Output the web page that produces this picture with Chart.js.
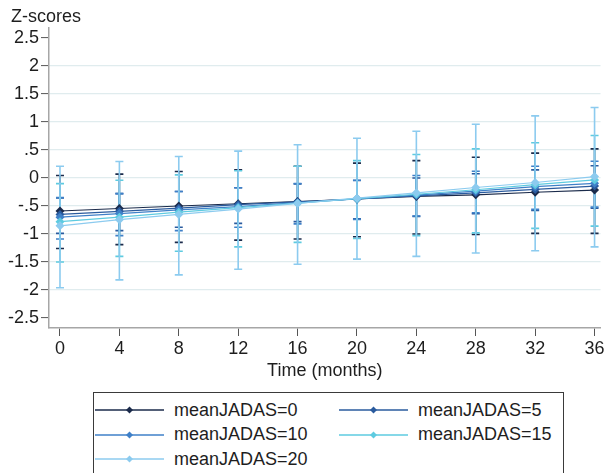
<!DOCTYPE html>
<html>
<head>
<meta charset="utf-8">
<title>Z-scores over time by mean JADAS</title>
<script src="https://cdn.jsdelivr.net/npm/chart.js@4.4.1/dist/chart.umd.min.js"></script>
<style>
    body { margin: 0; background: #fff; }
    #wrap { position: relative; width: 605px; height: 473px; overflow: hidden; font-family: "Liberation Sans", Arial, sans-serif; }
    #legend { position: absolute; left: 93px; top: 392px; width: 471px; height: 110px; border: 1px solid #3a3a3a; box-sizing: border-box; }
    .lg-item { position: absolute; height: 24px; display: flex; align-items: center; font-size: 18px; color: #1e1e1e; white-space: nowrap; }
    .lg-item svg { margin-right: 10px; }
</style>
</head>
<body>
<div id="wrap">
    <canvas id="zscore-chart" width="605" height="382"></canvas>
    <div id="legend"></div>
</div>
<script>
/* =============================================
   Z-scores by follow-up month, per mean JADAS
   ============================================= */

const months = [0, 4, 8, 12, 16, 20, 24, 28, 32, 36];
const yTicks = [-2.5, -2, -1.5, -1, -0.5, 0, 0.5, 1, 1.5, 2, 2.5];
const seriesNames = ['meanJADAS=0', 'meanJADAS=5', 'meanJADAS=10', 'meanJADAS=15', 'meanJADAS=20'];

// predicted z-score (point) with lower / upper confidence bounds
const jadas0   = [-0.59, -0.545, -0.5, -0.46, -0.42, -0.375, -0.33, -0.3, -0.255, -0.215];
const jadas0Lo = [-1.26, -1.19, -1.15, -1.11, -1.09, -1.05, -1.00, -1.01, -0.99, -0.99];
const jadas0Hi = [0.045, 0.07, 0.115, 0.147, 0.21, 0.265, 0.31, 0.37, 0.445, 0.52];

const jadas5   = [-0.65, -0.595, -0.54, -0.475, -0.425, -0.375, -0.32, -0.265, -0.205, -0.145];
const jadas5Lo = [-0.99, -0.94, -0.88, -0.81, -0.78, -0.73, -0.685, -0.64, -0.58, -0.54];
const jadas5Hi = [-0.355, -0.28, -0.24, -0.175, -0.105, -0.045, 0.0, 0.075, 0.145, 0.22];

const jadas10   = [-0.7, -0.635, -0.57, -0.51, -0.44, -0.375, -0.305, -0.235, -0.155, -0.095];
const jadas10Lo = [-1.09, -1.03, -0.94, -0.88, -0.82, -0.74, -0.68, -0.62, -0.56, -0.52];
const jadas10Hi = [-0.35, -0.28, -0.24, -0.175, -0.10, -0.04, 0.045, 0.12, 0.21, 0.30];

const jadas15   = [-0.78, -0.7, -0.61, -0.53, -0.45, -0.37, -0.29, -0.21, -0.12, -0.035];
const jadas15Lo = [-1.50, -1.40, -1.31, -1.23, -1.15, -1.08, -1.03, -0.98, -0.90, -0.86];
const jadas15Hi = [-0.10, -0.04, 0.055, 0.13, 0.21, 0.31, 0.42, 0.52, 0.63, 0.76];

const jadas20   = [-0.855, -0.745, -0.65, -0.555, -0.455, -0.36, -0.265, -0.17, -0.08, 0.025];
const jadas20Lo = [-1.96, -1.82, -1.73, -1.63, -1.54, -1.45, -1.40, -1.34, -1.30, -1.23];
const jadas20Hi = [0.21, 0.295, 0.385, 0.48, 0.595, 0.71, 0.835, 0.96, 1.11, 1.26];

const seriesColors = ['#1b2b4b', '#2a5b9e', '#3f80c8', '#5ecbe0', '#8ccbef'];
const FONT = '"Liberation Sans", Arial, sans-serif';

// Stata-style labels: ".5" and "-.5" without the leading zero
function axisLabel(v) {
    if (v === 0) return '0';
    const s = String(Math.abs(v)).replace(/^0\./, '.');
    return (v < 0 ? '-' : '') + s;
}

// vertical capped bars for the confidence interval of every point
const errorBars = {
    id: 'errorBars',
    beforeDatasetsDraw(chart) {
        const { ctx, scales: { x, y } } = chart;
        chart.data.datasets.forEach(ds => {
            ctx.save();
            ctx.strokeStyle = ds.borderColor;
            ctx.lineWidth = 1.6;
            ds.ciLow.forEach((lo, i) => {
                const px = x.getPixelForValue(months[i]);
                const top = y.getPixelForValue(ds.ciHigh[i]);
                const bot = y.getPixelForValue(lo);
                ctx.beginPath();
                ctx.moveTo(px, top); ctx.lineTo(px, bot);
                ctx.moveTo(px - 4, top); ctx.lineTo(px + 4, top);
                ctx.moveTo(px - 4, bot); ctx.lineTo(px + 4, bot);
                ctx.stroke();
            });
            ctx.restore();
        });
    }
};

// horizontal y-axis caption above the plot
const axisCaption = {
    id: 'axisCaption',
    afterDraw(chart) {
        const ctx = chart.ctx;
        ctx.save();
        ctx.font = '18px ' + FONT;
        ctx.fillStyle = '#1e1e1e';
        ctx.textBaseline = 'middle';
        ctx.fillText('Z-scores', 11, 17);
        ctx.restore();
    }
};

const ZScoreChart = {
    chart: null,

    init() {
        this.renderChart();
        this.renderLegend();
    },

    buildDatasets() {
        const points = [jadas0, jadas5, jadas10, jadas15, jadas20];
        const lows = [jadas0Lo, jadas5Lo, jadas10Lo, jadas15Lo, jadas20Lo];
        const highs = [jadas0Hi, jadas5Hi, jadas10Hi, jadas15Hi, jadas20Hi];

        return seriesNames.map((name, i) => ({
            label: name,
            data: months.map((m, j) => ({ x: m, y: points[i][j] })),
            ciLow: lows[i],
            ciHigh: highs[i],
            borderColor: seriesColors[i],
            backgroundColor: seriesColors[i],
            borderWidth: 1.2,
            pointStyle: 'rectRot',
            pointRadius: 4.5,
            pointBorderWidth: 0,
            tension: 0,
            order: seriesNames.length - i
        }));
    },

    renderChart() {
        const ctx = document.getElementById('zscore-chart').getContext('2d');

        this.chart = new Chart(ctx, {
            type: 'line',
            data: { datasets: this.buildDatasets() },
            plugins: [errorBars, axisCaption],
            options: {
                responsive: false,
                animation: false,
                devicePixelRatio: 1,
                layout: { padding: { top: 28, right: 0, bottom: 0, left: 0 } },
                plugins: {
                    legend: { display: false },
                    tooltip: { enabled: false }
                },
                scales: {
                    x: {
                        type: 'linear',
                        min: -0.74,
                        max: 36.4,
                        afterBuildTicks: axis => { axis.ticks = months.map(v => ({ value: v })); },
                        afterFit: axis => { axis.height = 54; axis.paddingLeft = 0; axis.paddingRight = 0; },
                        border: { color: '#a6a6a6', width: 1.5 },
                        grid: { drawOnChartArea: false, tickLength: 8, tickColor: '#555', tickWidth: 1 },
                        ticks: { color: '#1e1e1e', padding: 2, maxRotation: 0, font: { family: FONT, size: 18 } },
                        title: {
                            display: true,
                            text: 'Time (months)',
                            color: '#1e1e1e',
                            padding: 0,
                            font: { family: FONT, size: 18 }
                        }
                    },
                    y: {
                        type: 'linear',
                        min: -2.68,
                        max: 2.68,
                        afterBuildTicks: axis => { axis.ticks = yTicks.map(v => ({ value: v })); },
                        afterFit: axis => { axis.width = 49; axis.paddingTop = 0; axis.paddingBottom = 0; },
                        border: { color: '#a6a6a6', width: 1.5 },
                        grid: {
                            color: c => Math.abs(c.tick.value) === 2.5 ? 'rgba(0,0,0,0)' : '#e0ecee',
                            lineWidth: 1.2,
                            tickLength: 8,
                            tickColor: '#555',
                            tickWidth: 1
                        },
                        ticks: {
                            color: '#1e1e1e',
                            padding: 2,
                            font: { family: FONT, size: 18 },
                            callback: v => axisLabel(v)
                        }
                    }
                }
            }
        });
    },

    renderLegend() {
        const box = document.getElementById('legend');
        box.innerHTML = seriesNames.map((name, i) => {
            const col = i % 2;
            const row = Math.floor(i / 2);
            const c = seriesColors[i];
            return `
                <div class="lg-item" style="left:${1 + col * 244}px; top:${5 + row * 24.5}px">
                    <svg width="69" height="10" viewBox="0 0 69 10">
                        <line x1="0" y1="5" x2="69" y2="5" stroke="${c}" stroke-width="1.5"/>
                        <polygon points="34.5,1.5 38,5 34.5,8.5 31,5" fill="${c}"/>
                    </svg>
                    <span>${name}</span>
                </div>`;
        }).join('');
    }
};

ZScoreChart.init();
</script>
</body>
</html>
